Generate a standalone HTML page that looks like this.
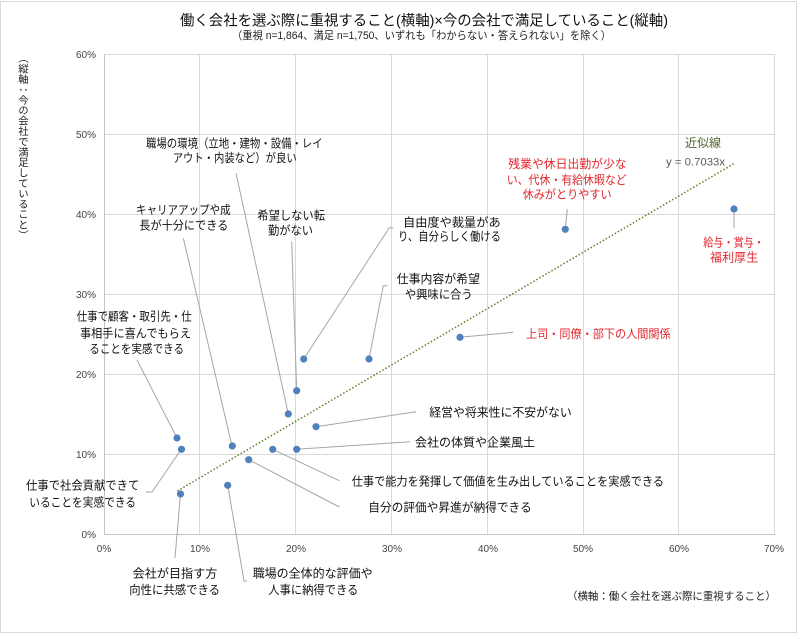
<!DOCTYPE html>
<html><head><meta charset="utf-8"><style>
html,body{margin:0;padding:0;background:#fff;}
body{width:800px;height:634px;position:relative;overflow:hidden;font-family:"Liberation Sans","Noto Sans CJK JP",sans-serif;}
svg{position:absolute;left:0;top:0;}
.vt{position:absolute;left:17px;top:53px;writing-mode:vertical-rl;text-orientation:upright;font-size:10.4px;line-height:12px;color:#222;font-family:"Noto Sans CJK JP",sans-serif;white-space:nowrap;}
</style></head><body>
<svg width="800" height="634" viewBox="0 0 800 634" xmlns="http://www.w3.org/2000/svg" font-family="Liberation Sans, Noto Sans CJK JP, sans-serif">
<rect x="0.5" y="1.5" width="796" height="631" fill="#fff" stroke="#d9d9d9" stroke-width="1"/>
<!-- title -->
<text x="180" y="25.5" font-size="14.5" fill="#111" textLength="488" lengthAdjust="spacingAndGlyphs">働く会社を選ぶ際に重視すること(横軸)×今の会社で満足していること(縦軸)</text>
<text x="232" y="39" font-size="11" fill="#222" textLength="379" lengthAdjust="spacingAndGlyphs">（重視 n=1,864、満足 n=1,750、いずれも「わからない・答えられない」を除く）</text>
<!-- gridlines -->
<g stroke="#d9d9d9" stroke-width="1">
<line x1="104" y1="54.5" x2="774.5" y2="54.5"/>
<line x1="104" y1="134.5" x2="774.5" y2="134.5"/>
<line x1="104" y1="214.5" x2="774.5" y2="214.5"/>
<line x1="104" y1="294.5" x2="774.5" y2="294.5"/>
<line x1="104" y1="374.5" x2="774.5" y2="374.5"/>
<line x1="104" y1="454.5" x2="774.5" y2="454.5"/>
<line x1="199.5" y1="54" x2="199.5" y2="534"/>
<line x1="295.5" y1="54" x2="295.5" y2="534"/>
<line x1="391.5" y1="54" x2="391.5" y2="534"/>
<line x1="487.5" y1="54" x2="487.5" y2="534"/>
<line x1="583.5" y1="54" x2="583.5" y2="534"/>
<line x1="678.5" y1="54" x2="678.5" y2="534"/>
<line x1="774.5" y1="54" x2="774.5" y2="534"/>
</g>
<g stroke="#c4c4c4" stroke-width="1">
<line x1="104.5" y1="54" x2="104.5" y2="534.5"/>
<line x1="104" y1="534.5" x2="775" y2="534.5"/>
</g>
<!-- tick labels -->
<g font-size="10" fill="#444" text-anchor="end">
<text x="96" y="58">60%</text>
<text x="96" y="138">50%</text>
<text x="96" y="218">40%</text>
<text x="96" y="298">30%</text>
<text x="96" y="378">20%</text>
<text x="96" y="458">10%</text>
<text x="96" y="538">0%</text>
</g>
<g font-size="10" fill="#444" text-anchor="middle">
<text x="104" y="552">0%</text>
<text x="200" y="552">10%</text>
<text x="296" y="552">20%</text>
<text x="392" y="552">30%</text>
<text x="488" y="552">40%</text>
<text x="583" y="552">50%</text>
<text x="679" y="552">60%</text>
<text x="774" y="552">70%</text>
</g>
<text x="567" y="599.5" font-size="10.5" fill="#222" textLength="209" lengthAdjust="spacingAndGlyphs">（横軸：働く会社を選ぶ際に重視すること）</text>
<!-- trend line -->
<line x1="177.3" y1="491" x2="735" y2="163" stroke="#5f7f2a" stroke-width="1.5" stroke-dasharray="1.5 2"/>
<text x="703" y="147" font-size="12" fill="#4f6228" text-anchor="middle">近似線</text>
<text x="666" y="165.5" font-size="11" fill="#595959" textLength="59" lengthAdjust="spacingAndGlyphs">y = 0.7033x</text>
<!-- leader lines -->
<g stroke="#a6a6a6" stroke-width="1" fill="none">
<polyline points="177,438 137,360"/>
<polyline points="181.5,449 152,492 146,492"/>
<polyline points="180.5,494 175,558"/>
<polyline points="232,446 183.3,238"/>
<polyline points="227.7,485 244,581 247,581"/>
<polyline points="248.7,459.7 339.3,507"/>
<polyline points="272.7,449.3 339.3,480.7"/>
<polyline points="288.3,414 236,173"/>
<polyline points="296.7,390.7 291.7,241.7"/>
<polyline points="296.7,449.3 410,441.7"/>
<polyline points="316,426.7 416,411.7"/>
<polyline points="303.7,359 389.3,227.7 393.3,227.7"/>
<polyline points="369,359 383.3,285.7 387.3,285.7"/>
<polyline points="460,337.3 513.3,332.3"/>
<polyline points="565.3,229.3 567.3,209.3"/>
<polyline points="734,209 734,228"/>
</g>
<!-- points -->
<g fill="#4f81bd">
<circle cx="177" cy="438" r="3.6"/>
<circle cx="181.5" cy="449.3" r="3.6"/>
<circle cx="180.5" cy="494" r="3.6"/>
<circle cx="232.3" cy="446" r="3.6"/>
<circle cx="227.7" cy="485.3" r="3.6"/>
<circle cx="248.7" cy="459.7" r="3.6"/>
<circle cx="272.7" cy="449.3" r="3.6"/>
<circle cx="288.3" cy="414" r="3.6"/>
<circle cx="296.7" cy="390.7" r="3.6"/>
<circle cx="296.7" cy="449.3" r="3.6"/>
<circle cx="316" cy="426.7" r="3.6"/>
<circle cx="303.7" cy="359" r="3.6"/>
<circle cx="369" cy="359" r="3.6"/>
<circle cx="460" cy="337.3" r="3.6"/>
<circle cx="565.3" cy="229.3" r="3.6"/>
<circle cx="734" cy="209" r="3.6"/>
</g>
<!-- labels -->
<g font-size="12" fill="#111">
<text x="76.7" y="320.6" textLength="115" lengthAdjust="spacingAndGlyphs">仕事で顧客・取引先・仕</text>
<text x="80" y="337.3" textLength="111" lengthAdjust="spacingAndGlyphs">事相手に喜んでもらえ</text>
<text x="89.3" y="352.9" textLength="94.7" lengthAdjust="spacingAndGlyphs">ることを実感できる</text>

<text x="26" y="489.6" textLength="113.3" lengthAdjust="spacingAndGlyphs">仕事で社会貢献できて</text>
<text x="29.3" y="506.3" textLength="106.7" lengthAdjust="spacingAndGlyphs">いることを実感できる</text>

<text x="132.7" y="577.3" textLength="84.6" lengthAdjust="spacingAndGlyphs">会社が目指す方</text>
<text x="129.3" y="593.9" textLength="90.7" lengthAdjust="spacingAndGlyphs">向性に共感できる</text>

<text x="136" y="213.9" textLength="94.7" lengthAdjust="spacingAndGlyphs">キャリアアップや成</text>
<text x="139.3" y="229.6" textLength="89" lengthAdjust="spacingAndGlyphs">長が十分にできる</text>

<text x="252.7" y="577.3" textLength="120" lengthAdjust="spacingAndGlyphs">職場の全体的な評価や</text>
<text x="268.3" y="593.9" textLength="90" lengthAdjust="spacingAndGlyphs">人事に納得できる</text>

<text x="368.3" y="511.3" textLength="163.4" lengthAdjust="spacingAndGlyphs">自分の評価や昇進が納得できる</text>
<text x="351.7" y="485.3" textLength="312.3" lengthAdjust="spacingAndGlyphs">仕事で能力を発揮して価値を生み出していることを実感できる</text>

<text x="146" y="147.3" textLength="176.7" lengthAdjust="spacingAndGlyphs">職場の環境（立地・建物・設備・レイ</text>
<text x="172.7" y="161.9" textLength="124" lengthAdjust="spacingAndGlyphs">アウト・内装など）が良い</text>

<text x="257.3" y="219.6" textLength="67.7" lengthAdjust="spacingAndGlyphs">希望しない転</text>
<text x="268" y="234.6" textLength="45" lengthAdjust="spacingAndGlyphs">勤がない</text>

<text x="415" y="446.3" textLength="120" lengthAdjust="spacingAndGlyphs">会社の体質や企業風土</text>
<text x="429.3" y="416.3" textLength="142.4" lengthAdjust="spacingAndGlyphs">経営や将来性に不安がない</text>

<text x="403" y="226.3" textLength="97.7" lengthAdjust="spacingAndGlyphs">自由度や裁量があ</text>
<text x="398" y="240.6" textLength="103" lengthAdjust="spacingAndGlyphs">り、自分らしく働ける</text>

<text x="396.7" y="282.9" textLength="83.3" lengthAdjust="spacingAndGlyphs">仕事内容が希望</text>
<text x="405" y="298.6" textLength="67.7" lengthAdjust="spacingAndGlyphs">や興味に合う</text>
</g>
<g font-size="12" fill="#e3262c">
<text x="526" y="337.9" textLength="144.7" lengthAdjust="spacingAndGlyphs">上司・同僚・部下の人間関係</text>
<text x="508.3" y="167.9" textLength="118.4" lengthAdjust="spacingAndGlyphs">残業や休日出勤が少な</text>
<text x="506.7" y="183.9" textLength="120" lengthAdjust="spacingAndGlyphs">い、代休・有給休暇など</text>
<text x="522.7" y="198.6" textLength="89" lengthAdjust="spacingAndGlyphs">休みがとりやすい</text>
<text x="703.3" y="246.3" textLength="60.7" lengthAdjust="spacingAndGlyphs">給与・賞与・</text>
<text x="710" y="261.3" textLength="48.3" lengthAdjust="spacingAndGlyphs">福利厚生</text>
</g>
</svg>
<div class="vt">（縦軸：今の会社で満足していること）</div>
</body></html>
